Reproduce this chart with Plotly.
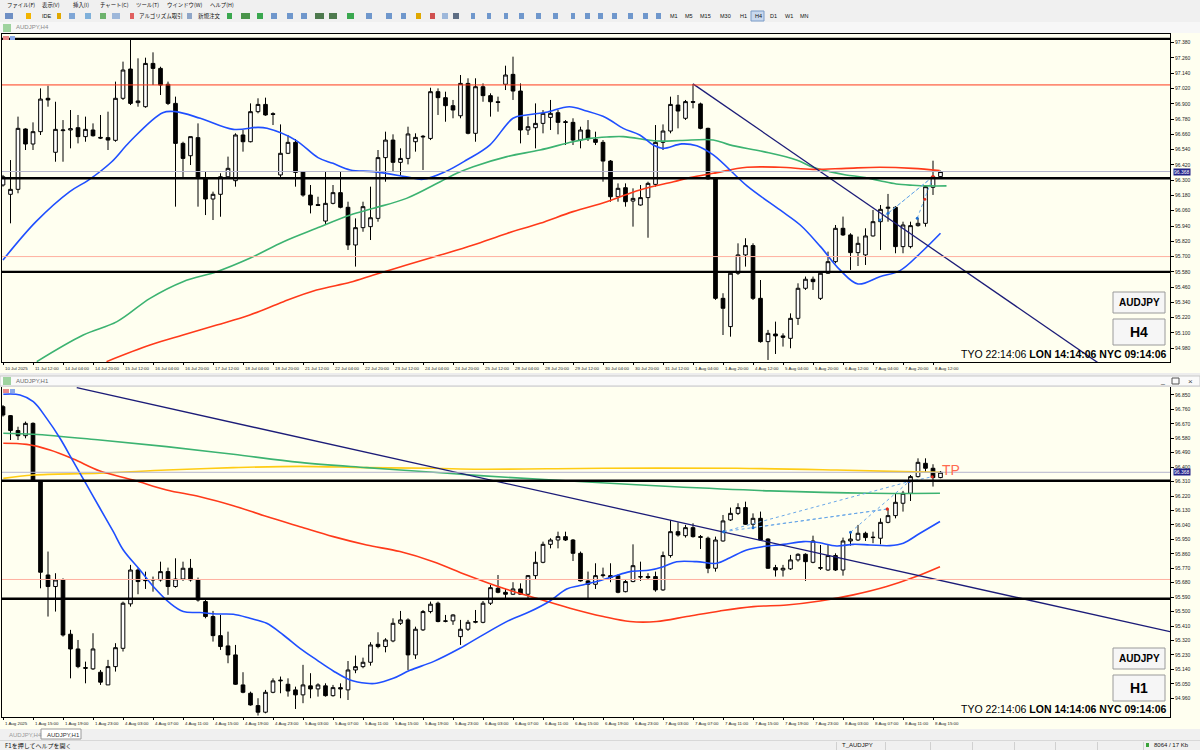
import plotly.graph_objects as go

# ---------------- H4 chart data (AUDJPY,H4) ----------------
h4_open = [96.262, 96.189, 96.228, 96.702, 96.584, 96.681, 96.943, 96.519, 96.689, 96.694,
           96.712, 96.642, 96.694, 96.636, 96.634, 96.613, 96.943, 97.173, 96.909, 96.877,
           97.217, 97.178, 97.053, 96.903, 96.589, 96.492, 96.634, 96.320, 96.152, 96.189,
           96.327, 96.296, 96.655, 96.602, 96.838, 96.895, 96.822, 96.341, 96.511, 96.597,
           96.367, 96.183, 96.108, 95.979, 96.118, 96.202, 96.087, 95.791, 95.927, 95.935,
           96.000, 96.477, 96.615, 96.440, 96.471, 96.602, 96.639, 96.628, 96.995, 96.948,
           96.885, 96.806, 97.060, 96.668, 97.034, 96.964, 96.916, 97.053, 97.131, 97.000,
           96.694, 96.712, 96.746, 96.793, 96.830, 96.759, 96.754, 96.615, 96.694, 96.621,
           96.597, 96.450, 96.170, 96.241, 96.136, 96.105, 96.163, 96.267, 96.597, 96.686,
           96.890, 96.786, 96.917, 96.899, 96.707, 96.310, 95.372, 95.150, 95.569, 95.713,
           95.786, 95.372, 95.032, 95.092, 95.077, 95.058, 95.215, 95.451, 95.522, 95.372,
           95.569, 95.660, 95.922, 95.870, 95.731, 95.713, 95.862, 95.974, 96.079, 96.087,
           95.778, 95.778, 95.943, 95.961, 96.244, 96.328]
h4_high = [96.341, 96.458, 96.799, 96.707, 96.754, 97.021, 97.042, 96.916, 96.772, 96.851,
           96.812, 96.799, 96.746, 96.812, 96.838, 97.074, 97.231, 97.414, 97.257, 97.262,
           97.304, 97.191, 97.074, 96.956, 96.602, 96.642, 96.746, 96.367, 96.210, 96.354,
           96.485, 96.668, 96.694, 96.903, 96.943, 96.948, 96.833, 96.738, 96.655, 96.623,
           96.372, 96.262, 96.170, 96.367, 96.262, 96.367, 96.131, 96.000, 96.131, 96.249,
           96.537, 96.681, 96.660, 96.550, 96.720, 96.668, 96.655, 97.026, 97.021, 96.995,
           96.930, 97.126, 97.100, 97.100, 97.060, 96.982, 96.956, 97.199, 97.270, 97.060,
           96.799, 96.903, 96.851, 96.930, 96.851, 96.772, 96.786, 96.720, 96.772, 96.681,
           96.615, 96.458, 96.275, 96.275, 96.236, 96.262, 96.288, 96.733, 96.738, 96.956,
           96.969, 96.930, 97.056, 96.909, 96.712, 96.316, 95.412, 95.582, 95.804, 95.844,
           95.804, 95.516, 95.124, 95.189, 95.097, 95.254, 95.490, 95.543, 95.543, 95.582,
           95.739, 95.948, 96.014, 95.883, 95.857, 95.922, 96.066, 96.105, 96.192, 96.097,
           95.974, 95.974, 96.001, 96.262, 96.453, 96.375]
h4_low = [96.249, 95.961, 96.197, 96.537, 96.537, 96.655, 96.877, 96.445, 96.445, 96.550,
          96.589, 96.602, 96.642, 96.623, 96.537, 96.602, 96.930, 96.890, 96.877, 96.869,
          97.047, 96.969, 96.890, 96.092, 96.314, 96.419, 96.092, 96.026, 95.987, 96.013,
          96.320, 96.249, 96.524, 96.597, 96.825, 96.806, 96.733, 96.314, 96.505, 96.249,
          96.170, 96.039, 96.097, 95.948, 96.110, 96.079, 95.752, 95.621, 95.895, 95.830,
          95.974, 96.288, 96.367, 96.341, 96.424, 96.524, 96.380, 96.615, 96.812, 96.759,
          96.786, 96.786, 96.660, 96.602, 96.916, 96.799, 96.838, 97.008, 96.930, 96.589,
          96.655, 96.550, 96.668, 96.694, 96.660, 96.576, 96.576, 96.550, 96.608, 96.576,
          96.288, 96.131, 96.131, 96.092, 95.935, 96.100, 95.848, 96.249, 96.537, 96.668,
          96.707, 96.773, 96.864, 96.700, 96.305, 95.360, 95.084, 95.071, 95.556, 95.621,
          95.359, 95.024, 94.888, 94.935, 94.993, 94.980, 95.163, 95.438, 95.438, 95.359,
          95.564, 95.647, 95.862, 95.595, 95.626, 95.634, 95.857, 95.752, 95.974, 95.726,
          95.726, 95.765, 95.935, 95.935, 96.184, 96.323]
h4_close = [96.327, 96.228, 96.707, 96.584, 96.681, 96.937, 96.930, 96.699, 96.694, 96.704,
            96.642, 96.699, 96.649, 96.631, 96.615, 96.943, 97.165, 96.903, 96.922, 97.217,
            97.178, 97.047, 96.903, 96.589, 96.471, 96.642, 96.314, 96.152, 96.189, 96.327,
            96.393, 96.655, 96.602, 96.838, 96.895, 96.812, 96.817, 96.511, 96.597, 96.361,
            96.183, 96.105, 96.102, 96.118, 96.202, 96.087, 95.791, 95.927, 96.092, 96.005,
            96.477, 96.615, 96.440, 96.471, 96.663, 96.636, 96.644, 96.995, 96.948, 96.885,
            96.851, 97.060, 96.668, 97.034, 96.964, 96.916, 96.911, 97.126, 97.000, 96.694,
            96.720, 96.746, 96.825, 96.825, 96.754, 96.754, 96.615, 96.694, 96.628, 96.597,
            96.450, 96.170, 96.236, 96.131, 96.157, 96.163, 96.275, 96.597, 96.686, 96.895,
            96.843, 96.917, 96.912, 96.707, 96.310, 95.372, 95.294, 95.569, 95.713, 95.786,
            95.372, 95.032, 95.097, 95.077, 95.066, 95.215, 95.451, 95.522, 95.503, 95.569,
            95.660, 95.922, 95.870, 95.731, 95.804, 95.862, 95.974, 96.071, 96.087, 95.778,
            95.948, 95.943, 95.961, 96.249, 96.328, 96.368]

# moving averages (bar index, price)
h4_blue_x = [0, 4.4, 8.9, 11.4, 14.5, 16.9, 21.3, 23, 26.3, 30.7, 34, 35.2, 39, 42, 44, 46.3,
             49.4, 53.8, 56, 59, 61.8, 64.9, 68, 69.8, 72.4, 75.5, 77.8, 80.4, 82.7, 84.9,
             86.7, 88, 90.5, 92.5, 94.7, 99.2, 103.6, 106.3, 109, 111.6, 114, 116.9, 119.6,
             122.3, 125]
h4_blue_y = [95.673, 95.974, 96.210, 96.301, 96.445, 96.602, 96.830, 96.838, 96.786, 96.699,
             96.715, 96.707, 96.615, 96.477, 96.432, 96.380, 96.367, 96.327, 96.307, 96.367,
             96.458, 96.576, 96.786, 96.812, 96.833, 96.877, 96.843, 96.791, 96.707, 96.655,
             96.576, 96.550, 96.585, 96.570, 96.498, 96.255, 96.066, 95.948, 95.778, 95.595,
             95.485, 95.542, 95.590, 95.726, 95.883]
h4_green_x = [4.5, 10.7, 15.2, 19.6, 24.0, 28.5, 32.9, 37.4, 41.8, 46.3, 49.4, 53.8, 58.3,
              60.5, 62.7, 67.2, 71.6, 76.0, 78.3, 80.5, 82.7, 87.2, 90.3, 94.7, 96.9, 101.4,
              105.8, 108.0, 110.2, 112.4, 114.7, 116.9, 119.1, 121.3, 123.5, 125.8]
h4_green_y = [94.875, 95.084, 95.189, 95.372, 95.503, 95.581, 95.686, 95.817, 95.922, 96.026,
              96.079, 96.157, 96.288, 96.354, 96.406, 96.485, 96.537, 96.602, 96.628, 96.639,
              96.642, 96.608, 96.611, 96.616, 96.577, 96.524, 96.459, 96.401, 96.367, 96.341,
              96.323, 96.296, 96.270, 96.260, 96.255, 96.255]
h4_red_x = [13.8, 19.6, 24.0, 28.5, 32.9, 37.4, 41.8, 46.3, 49.4, 53.8, 58.3, 62.7, 67.2,
            71.6, 76.0, 80.5, 84.9, 89.4, 91.6, 94.7, 99.2, 103.6, 108.0, 112.4, 116.9,
            121.3, 124.9]
h4_red_y = [94.875, 95.005, 95.084, 95.162, 95.241, 95.346, 95.437, 95.498, 95.555, 95.634,
            95.712, 95.791, 95.882, 95.961, 96.053, 96.131, 96.223, 96.288, 96.320, 96.354,
            96.401, 96.401, 96.385, 96.393, 96.401, 96.393, 96.375]
h4_trend_x = [92, 146.3]
h4_trend_y = [97.056, 94.854]
h4_trade_x = [[116.9, 124.0], [118.0, 124.0], [121.9, 122.9, 124.0]]
h4_trade_y = [[95.987, 96.328], [96.040, 96.328], [96.001, 96.150, 96.328]]
h4_levels_thick = [97.410, 96.315, 95.580]
h4_level_red = 97.048
h4_level_thin = 95.700

h4_ticks = [97.380 - 0.12 * k for k in range(21)]
h4_time_idx = list(range(0, 125, 4))
h4_time_text = ["10 Jul 2025", "11 Jul 12:00", "14 Jul 04:00", "14 Jul 20:00", "15 Jul 12:00",
                "16 Jul 04:00", "16 Jul 20:00", "17 Jul 12:00", "18 Jul 04:00", "18 Jul 20:00",
                "21 Jul 12:00", "22 Jul 04:00", "22 Jul 20:00", "23 Jul 12:00", "24 Jul 04:00",
                "24 Jul 20:00", "25 Jul 12:00", "28 Jul 04:00", "28 Jul 20:00", "29 Jul 12:00",
                "30 Jul 04:00", "30 Jul 20:00", "31 Jul 12:00", "1 Aug 04:00", "1 Aug 20:00",
                "4 Aug 12:00", "5 Aug 04:00", "5 Aug 20:00", "6 Aug 12:00", "7 Aug 04:00",
                "7 Aug 20:00", "8 Aug 12:00"]

# ---------------- H1 chart data (AUDJPY,H1) ----------------
h1_open = [96.777, 96.721, 96.628, 96.596, 96.673, 96.310, 95.728, 95.656, 95.697, 95.359,
           95.267, 95.151, 95.143, 95.122, 95.043, 95.157, 95.271, 95.548, 95.759, 95.697,
           95.697, 95.697, 95.749, 95.656, 95.703, 95.770, 95.697, 95.562, 95.469, 95.350,
           95.286, 95.230, 95.043, 94.991, 94.914, 94.873, 94.997, 95.068, 95.047, 95.012,
           94.981, 95.037, 95.018, 95.037, 94.976, 95.026, 95.012, 95.136, 95.157, 95.184,
           95.296, 95.282, 95.317, 95.427, 95.448, 95.230, 95.386, 95.500, 95.552, 95.442,
           95.442, 95.344, 95.390, 95.433, 95.433, 95.552, 95.645, 95.620, 95.608, 95.641,
           95.608, 95.724, 95.807, 95.919, 95.946, 95.967, 95.946, 95.863, 95.691, 95.670,
           95.724, 95.724, 95.724, 95.624, 95.687, 95.718, 95.718, 95.718, 95.635, 95.849,
           95.998, 95.973, 96.023, 95.967, 95.957, 95.770, 95.940, 96.071, 96.112, 96.148,
           96.044, 96.081, 95.952, 95.774, 95.759, 95.766, 95.822, 95.857, 95.807, 95.770,
           95.759, 95.849, 95.759, 95.940, 95.946, 95.988, 95.961, 95.957, 96.056, 96.098,
           96.175, 96.237, 96.341, 96.424, 96.393, 96.335]
h1_high = [96.787, 96.725, 96.652, 96.684, 96.679, 96.314, 95.874, 95.739, 95.707, 95.386,
           95.323, 95.188, 95.365, 95.136, 95.199, 95.303, 95.562, 95.791, 95.770, 95.749,
           95.718, 95.811, 95.774, 95.832, 95.811, 95.828, 95.712, 95.572, 95.504, 95.479,
           95.375, 95.292, 95.122, 95.001, 94.960, 95.012, 95.084, 95.095, 95.084, 95.032,
           95.168, 95.116, 95.053, 95.053, 95.043, 95.053, 95.192, 95.226, 95.213, 95.309,
           95.371, 95.334, 95.458, 95.504, 95.458, 95.406, 95.510, 95.562, 95.562, 95.479,
           95.483, 95.448, 95.448, 95.510, 95.566, 95.666, 95.728, 95.641, 95.683, 95.676,
           95.728, 95.874, 95.936, 95.957, 95.998, 95.998, 95.952, 95.874, 95.749, 95.801,
           95.774, 95.801, 95.732, 95.697, 95.919, 95.811, 95.739, 95.749, 95.874, 96.071,
           96.056, 96.040, 96.050, 95.977, 95.967, 95.967, 96.102, 96.148, 96.175, 96.185,
           96.112, 96.123, 95.957, 95.791, 95.791, 95.853, 95.863, 95.863, 95.973, 95.915,
           95.915, 95.863, 95.961, 95.998, 96.040, 95.998, 95.998, 96.081, 96.139, 96.237,
           96.252, 96.351, 96.455, 96.455, 96.418, 96.376]
h1_low = [96.715, 96.569, 96.569, 96.580, 96.310, 95.645, 95.469, 95.500, 95.344, 95.084,
          95.147, 95.053, 95.136, 95.043, 95.043, 95.126, 95.251, 95.531, 95.608, 95.641,
          95.624, 95.687, 95.604, 95.649, 95.691, 95.687, 95.562, 95.458, 95.313, 95.261,
          95.178, 95.043, 94.991, 94.914, 94.852, 94.866, 94.991, 94.991, 94.970, 94.893,
          94.929, 94.960, 94.970, 94.970, 94.970, 94.960, 94.949, 95.116, 95.147, 95.163,
          95.271, 95.246, 95.309, 95.417, 95.136, 95.205, 95.379, 95.489, 95.433, 95.433,
          95.417, 95.292, 95.379, 95.427, 95.427, 95.541, 95.614, 95.583, 95.604, 95.604,
          95.583, 95.703, 95.801, 95.894, 95.894, 95.940, 95.815, 95.687, 95.572, 95.641,
          95.712, 95.683, 95.614, 95.620, 95.683, 95.691, 95.703, 95.624, 95.629, 95.836,
          95.967, 95.961, 95.961, 95.890, 95.739, 95.749, 95.936, 96.065, 96.102, 96.040,
          96.019, 95.940, 95.766, 95.718, 95.718, 95.759, 95.811, 95.691, 95.801, 95.759,
          95.753, 95.753, 95.724, 95.911, 95.940, 95.940, 95.926, 95.919, 96.050, 96.081,
          96.123, 96.189, 96.335, 96.368, 96.279, 96.331]
h1_close = [96.725, 96.628, 96.596, 96.673, 96.314, 95.745, 95.656, 95.697, 95.354, 95.267,
            95.157, 95.147, 95.267, 95.060, 95.157, 95.275, 95.552, 95.759, 95.687, 95.693,
            95.699, 95.749, 95.656, 95.703, 95.770, 95.697, 95.572, 95.469, 95.350, 95.282,
            95.230, 95.047, 94.997, 94.918, 94.873, 94.997, 95.068, 95.072, 95.005, 94.981,
            95.043, 95.018, 95.043, 94.976, 95.026, 95.018, 95.136, 95.157, 95.184, 95.292,
            95.282, 95.323, 95.427, 95.448, 95.230, 95.390, 95.500, 95.546, 95.438, 95.440,
            95.479, 95.390, 95.433, 95.438, 95.552, 95.649, 95.620, 95.608, 95.641, 95.608,
            95.724, 95.807, 95.919, 95.946, 95.967, 95.946, 95.863, 95.691, 95.670, 95.724,
            95.728, 95.712, 95.620, 95.687, 95.786, 95.716, 95.712, 95.635, 95.849, 95.998,
            95.977, 96.023, 95.967, 95.963, 95.770, 95.946, 96.065, 96.112, 96.148, 96.044,
            96.081, 95.946, 95.770, 95.759, 95.770, 95.822, 95.857, 95.811, 95.940, 95.774,
            95.849, 95.759, 95.940, 95.952, 95.988, 95.961, 95.963, 96.056, 96.098, 96.181,
            96.237, 96.341, 96.430, 96.393, 96.335, 96.368]

h1_blue_x = [0.04, 2.27, 4.04, 5.82, 7.6, 9.38, 11.16, 12.93, 14.71, 16.04, 18.27, 20.04,
             22.27, 24.04, 26.27, 28.49, 30.71, 32.93, 35.16, 37.38, 39.6, 41.82, 44.04,
             46.27, 48.49, 49.82, 52.04, 54.27, 57.38, 60.93, 63.6, 67.6, 70.27, 72.93,
             75.16, 76.93, 79.16, 81.38, 83.6, 86.27, 88.04, 89.82, 92.49, 95.16, 96.93,
             99.16, 101.38, 104.04, 106.71, 108.49, 111.16, 113.38, 115.6, 118.27, 120.04,
             122.27, 124.93]
h1_blue_y = [96.854, 96.850, 96.808, 96.704, 96.580, 96.434, 96.289, 96.144, 95.998, 95.884,
             95.759, 95.656, 95.552, 95.500, 95.494, 95.485, 95.483, 95.458, 95.427, 95.354,
             95.271, 95.199, 95.130, 95.074, 95.053, 95.053, 95.084, 95.134, 95.188, 95.271,
             95.344, 95.448, 95.500, 95.566, 95.641, 95.662, 95.687, 95.718, 95.749, 95.759,
             95.780, 95.811, 95.811, 95.801, 95.836, 95.884, 95.905, 95.919, 95.936, 95.932,
             95.909, 95.919, 95.915, 95.911, 95.926, 95.988, 96.061]
h1_green_x = [0.04, 4.04, 12.93, 21.82, 30.71, 39.6, 48.49, 57.38, 63.6, 75.6, 88.93, 102.27,
              115.6, 124.93]
h1_green_y = [96.611, 96.605, 96.569, 96.528, 96.480, 96.430, 96.397, 96.368, 96.347, 96.314,
              96.279, 96.252, 96.237, 96.237]
h1_red_x = [0.04, 3.16, 6.27, 9.38, 12.93, 17.38, 21.82, 26.27, 30.71, 35.16, 39.6, 44.04,
            48.49, 52.93, 57.38, 61.82, 66.71, 71.16, 75.6, 80.04, 83.6, 87.16, 91.16, 95.6,
            100.04, 104.49, 108.93, 113.38, 117.82, 121.38, 124.93]
h1_red_y = [96.549, 96.542, 96.507, 96.451, 96.376, 96.320, 96.258, 96.216, 96.160, 96.092,
            96.029, 95.967, 95.915, 95.874, 95.811, 95.728, 95.645, 95.583, 95.521, 95.469,
            95.438, 95.438, 95.469, 95.504, 95.531, 95.541, 95.566, 95.604, 95.656, 95.712,
            95.780]
h1_yellow_x = [0.04, 4.04, 12.93, 21.82, 30.71, 39.6, 48.49, 57.38, 63.6, 80.04, 97.82, 111.16,
               120.04, 124.93]
h1_yellow_y = [96.330, 96.351, 96.362, 96.382, 96.397, 96.405, 96.397, 96.393, 96.387, 96.393,
               96.393, 96.382, 96.372, 96.368]
h1_trend_x = [9.83, 155.6]
h1_trend_y = [96.895, 95.375]
h1_trade_x = [[96.1, 120.8], [96.1, 117.9], [100.0, 117.9], [113.0, 120.8], [120.8, 123.9]]
h1_trade_y = [[95.998, 96.310], [95.998, 96.139], [96.023, 96.139], [95.994, 96.310], [96.310, 96.340]]
h1_levels_thick = [96.315, 95.580]
h1_level_thin = 95.700

h1_ticks = [96.850 - 0.09 * k for k in range(22)]
h1_time_idx = list(range(0, 125, 4))
h1_time_text = ["1 Aug 2025", "1 Aug 15:00", "1 Aug 19:00", "1 Aug 23:00", "4 Aug 03:00",
                "4 Aug 07:00", "4 Aug 11:00", "4 Aug 15:00", "4 Aug 19:00", "4 Aug 23:00",
                "5 Aug 03:00", "5 Aug 07:00", "5 Aug 11:00", "5 Aug 15:00", "5 Aug 19:00",
                "5 Aug 23:00", "6 Aug 03:00", "6 Aug 07:00", "6 Aug 11:00", "6 Aug 15:00",
                "6 Aug 19:00", "6 Aug 23:00", "7 Aug 03:00", "7 Aug 07:00", "7 Aug 11:00",
                "7 Aug 15:00", "7 Aug 19:00", "7 Aug 23:00", "8 Aug 03:00", "8 Aug 07:00",
                "8 Aug 11:00", "8 Aug 15:00"]

bid = 96.368
clock_text = "TYO 22:14:06 <b>LON 14:14:06</b> <b>NYC 09:14:06</b>"
menu_items = ["ファイル(F)", "表示(V)", "挿入(I)", "チャート(C)", "ツール(T)", "ウインドウ(W)", "ヘルプ(H)"]
menu_x = [5, 40, 71, 98, 134, 165, 208]
timeframes = ["M1", "M5", "M15", "M30", "H1", "H4", "D1", "W1", "MN"]


def px(x):
    return x / 1200


def py(y):
    return 1 - y / 750


BG = "#FFFFF0"
FONT = "Liberation Sans"
JP = "Noto Sans CJK JP"

fig = go.Figure()


def add_chart(xa, ya, o, h, l, c, mas, trend, trades):
    fig.add_trace(go.Candlestick(
        x=list(range(len(o))), open=o, high=h, low=l, close=c,
        xaxis=xa, yaxis=ya, whiskerwidth=0,
        increasing=dict(line=dict(color="black", width=1), fillcolor="white"),
        decreasing=dict(line=dict(color="black", width=1), fillcolor="black"),
        hoverinfo="skip", showlegend=False))
    for mx, my, col in mas:
        fig.add_trace(go.Scatter(x=mx, y=my, mode="lines", xaxis=xa, yaxis=ya,
                                 line=dict(color=col, width=1.6, shape="spline"),
                                 hoverinfo="skip", showlegend=False))
    fig.add_trace(go.Scatter(x=trend[0], y=trend[1], mode="lines", xaxis=xa, yaxis=ya,
                             line=dict(color="#1C1C78", width=1.3),
                             hoverinfo="skip", showlegend=False))
    for tx, ty in zip(*trades):
        fig.add_trace(go.Scatter(x=tx, y=ty, mode="lines+markers", xaxis=xa, yaxis=ya,
                                 line=dict(color="#6AA8E8", width=1, dash="dot"),
                                 marker=dict(size=3, color=["#1E6FD0"] + ["#E03020"] * (len(tx) - 1)),
                                 hoverinfo="skip", showlegend=False))


add_chart("x", "y", h4_open, h4_high, h4_low, h4_close,
          [(h4_green_x, h4_green_y, "#3CB371"), (h4_red_x, h4_red_y, "#FF3A1A"),
           (h4_blue_x, h4_blue_y, "#1F4FFF")],
          (h4_trend_x, h4_trend_y), (h4_trade_x, h4_trade_y))
add_chart("x2", "y2", h1_open, h1_high, h1_low, h1_close,
          [(h1_yellow_x, h1_yellow_y, "#FFCC14"), (h1_green_x, h1_green_y, "#3CB371"),
           (h1_red_x, h1_red_y, "#FF3A1A"), (h1_blue_x, h1_blue_y, "#1F4FFF")],
          (h1_trend_x, h1_trend_y), (h1_trade_x, h1_trade_y))

shapes = []
annotations = []


def hline(yref, xref, val, color, width):
    shapes.append(dict(type="line", xref=xref + " domain", yref=yref, x0=0, x1=1,
                       y0=val, y1=val, line=dict(color=color, width=width)))


for v in h4_levels_thick:
    hline("y", "x", v, "black", 2.4)
hline("y", "x", h4_level_red, "#FF3A1A", 1)
hline("y", "x", h4_level_thin, "#FFB0A0", 1)
hline("y", "x", bid, "#B4B4CC", 1)
for v in h1_levels_thick:
    hline("y2", "x2", v, "black", 2.4)
hline("y2", "x2", h1_level_thin, "#FFB0A0", 1)
hline("y2", "x2", bid, "#B4B4CC", 1)

# time labels (left aligned like MT4)
for i, t in zip(h4_time_idx, h4_time_text):
    annotations.append(dict(x=i, xref="x", y=py(364), yref="paper", text=t, showarrow=False,
                            xanchor="left", yanchor="top", font=dict(size=4.4, family=FONT, color="#222")))
for i, t in zip(h1_time_idx, h1_time_text):
    annotations.append(dict(x=i, xref="x2", y=py(719), yref="paper", text=t, showarrow=False,
                            xanchor="left", yanchor="top", font=dict(size=4.4, family=FONT, color="#222")))

# bid price labels on the price axis
for yr in ["y", "y2"]:
    annotations.append(dict(x=px(1173), xref="paper", y=bid, yref=yr, text=f"{bid:.3f}",
                            showarrow=False, xanchor="left", yanchor="middle", bgcolor="#24248A",
                            font=dict(size=5, family=FONT, color="white"), borderpad=0))

# clocks
for ybot in [362, 717]:
    annotations.append(dict(x=px(1169), y=py(ybot), xref="paper", yref="paper", text=clock_text,
                            showarrow=False, xanchor="right", yanchor="bottom",
                            font=dict(size=10.5, family=FONT, color="black")))

# symbol / timeframe buttons
for top, tf in [(292, "H4"), (648, "H1")]:
    shapes.append(dict(type="rect", xref="paper", yref="paper", x0=px(1113), x1=px(1165),
                       y0=py(top + 21), y1=py(top), fillcolor="#F6F6F6", line=dict(color="#9A9A9A", width=1)))
    shapes.append(dict(type="rect", xref="paper", yref="paper", x0=px(1113), x1=px(1165),
                       y0=py(top + 53), y1=py(top + 27), fillcolor="#F6F6F6", line=dict(color="#9A9A9A", width=1)))
    annotations.append(dict(x=px(1139), y=py(top + 10.5), xref="paper", yref="paper", text="<b>AUDJPY</b>",
                            showarrow=False, xanchor="center", yanchor="middle",
                            font=dict(size=10, family=FONT, color="black")))
    annotations.append(dict(x=px(1139), y=py(top + 40), xref="paper", yref="paper", text=f"<b>{tf}</b>",
                            showarrow=False, xanchor="center", yanchor="middle",
                            font=dict(size=14, family=FONT, color="black")))

annotations.append(dict(x=124.9, xref="x2", y=bid + 0.015, yref="y2", text="TP", showarrow=False,
                        xanchor="left", yanchor="middle", font=dict(size=14, family=FONT, color="#FF6A50")))


# ---- window chrome ----
def rect(x0, y0, x1, y1, fill, line=None, lw=1):
    shapes.append(dict(type="rect", xref="paper", yref="paper", x0=px(x0), x1=px(x1),
                       y0=py(y1), y1=py(y0), fillcolor=fill, layer="above",
                       line=dict(color=line or fill, width=lw if line else 0)))


def text(x, y, s, size=7, color="#111", family=JP, anchor="left"):
    annotations.append(dict(x=px(x), y=py(y), xref="paper", yref="paper", text=s, showarrow=False,
                            xanchor=anchor, yanchor="middle", font=dict(size=size, family=family, color=color)))


rect(0, 0, 1200, 22, "#F0F0F0")
rect(0, 22, 1200, 33, "#F7F7F7")
for m, mx in zip(menu_items, menu_x):
    text(mx, 4.5, m, size=5.4)
# toolbar icons (small, muted)
icons = [(5, 13, "#6E8FC4"), (26, 31, "#F2B400"), (57, 61, "#E0A800"), (69, 75, "#7FA6D6"),
         (85, 91, "#7FB0DA"), (100, 106, "#6DB36D"), (112, 120, "#9DB7DA"), (130, 134, "#E06060"),
         (187, 192, "#8FA6C8"), (227, 232, "#3AA84F"), (241, 250, "#4A944A"), (257, 263, "#3AA84F"),
         (271, 277, "#6F97CC"), (287, 293, "#6F97CC"), (301, 307, "#6F97CC"), (315, 324, "#4E7A4E"),
         (329, 337, "#4E7A4E"), (347, 354, "#3AA84F"), (366, 372, "#6F97CC"), (386, 392, "#6F97CC"),
         (401, 406, "#6F97CC"), (416, 421, "#E0A800"), (430, 435, "#D05050"), (442, 448, "#9DB7DA"),
         (453, 459, "#5E6E84"), (471, 475, "#6F97CC"), (487, 491, "#6F97CC"), (504, 508, "#6F97CC"),
         (519, 524, "#6F97CC"), (536, 541, "#6F97CC"), (553, 558, "#6F97CC"), (571, 575, "#6F97CC"),
         (585, 590, "#6F97CC"), (598, 603, "#6F97CC"), (612, 617, "#6F97CC"), (628, 633, "#6F97CC"),
         (643, 648, "#6F97CC"), (656, 661, "#6F97CC")]
for x0, x1, col in icons:
    rect(x0, 13, x1, 19, col)
text(40, 16, "IDE", size=5.5, family=FONT)
text(137, 16, "アルゴリズム取引", size=5.5)
text(196, 16, "新規注文", size=5.5)
tx = 668
for tf in timeframes:
    if tf == "H4":
        rect(tx - 2, 11, tx + 11, 21, "#C8D8EE", "#7A9CC8")
    text(tx, 16, tf, size=5.5, family=FONT)
    tx += 5 + 5 * len(tf)
rect(3, 24, 11, 32, "#9FD39F")
text(14, 27.5, "AUDJPY,H4", size=6, family=FONT, color="#8A8A8A")
# tiny object icons at the chart corners
for yt in [36, 389]:
    rect(3, yt, 9, yt + 4, "#E88A8A")
    rect(10, yt, 15, yt + 4, "#8AA8E8")

# separator between charts + H1 window title bar
rect(0, 373, 1200, 387, "#EDEDED")
rect(0, 376, 1200, 386, "#FAFAFA", "#C8C8C8")
rect(3, 377, 11, 385, "#9FD39F")
text(14, 381, "AUDJPY,H1", size=6, family=FONT, color="#6A6A6A")
text(1158, 381, "_", size=7, family=FONT, color="#444")
rect(1172, 378, 1179, 384, "#FAFAFA", "#555")
text(1186, 381, "×", size=8, family=FONT, color="#444")

# bottom tabs + status bar
rect(0, 729, 1200, 750, "#F0F0F0")
rect(0, 740, 1200, 741, "#D8D8D8")
text(7, 734.5, "AUDJPY,H4", size=6, family=FONT, color="#9A9A9A")
rect(41, 729, 81, 739, "#FFFFFF", "#9A9A9A")
text(45, 734.5, "AUDJPY,H1", size=6, family=FONT, color="#333")
text(3, 745, "F1を押してヘルプを開く", size=6)
for sx in [836, 885, 930, 972, 1014, 1055, 1097, 1143]:
    rect(sx, 742, sx + 0.8, 750, "#C8C8C8")
text(840, 745, "T_AUDJPY", size=6, family=FONT)
rect(1146, 743, 1149, 747, "#3BA33B")
text(1152, 745, "8064 / 17 Kb", size=6, family=FONT)

axis_common = dict(showgrid=False, zeroline=False, showline=True, linecolor="black", linewidth=1,
                   mirror=True)

fig.update_layout(
    width=1200, height=750, margin=dict(l=0, r=0, t=0, b=0),
    paper_bgcolor=BG, plot_bgcolor=BG, showlegend=False,
    shapes=shapes, annotations=annotations,
    xaxis=dict(domain=[px(2), px(1170)], range=[-0.133, 155.6], anchor="y",
               tickvals=h4_time_idx, ticks="outside", ticklen=2, tickcolor="black",
               showticklabels=False, rangeslider=dict(visible=False), **axis_common),
    yaxis=dict(domain=[py(362), py(34)], range=[94.872, 97.448], anchor="x", side="right",
               tickvals=h4_ticks, ticktext=[f"{v:.3f}" for v in h4_ticks], ticks="outside",
               ticklen=3, tickcolor="black", tickfont=dict(size=5, family=FONT, color="#222"),
               **axis_common),
    xaxis2=dict(domain=[px(2), px(1170)], range=[-0.133, 155.6], anchor="y2",
                tickvals=h1_time_idx, ticks="outside", ticklen=2, tickcolor="black",
                showticklabels=False, rangeslider=dict(visible=False), **axis_common),
    yaxis2=dict(domain=[py(717), py(387)], range=[94.843, 96.8995], anchor="x2", side="right",
                tickvals=h1_ticks, ticktext=[f"{v:.3f}" for v in h1_ticks], ticks="outside",
                ticklen=3, tickcolor="black", tickfont=dict(size=5, family=FONT, color="#222"),
                **axis_common),
)

# the page's default body margin would shift the figure by 8px
fig.write_html("out.html", config={"displayModeBar": False},
               post_script="document.body.style.margin='0';"
                           "document.documentElement.style.overflow='hidden';")
